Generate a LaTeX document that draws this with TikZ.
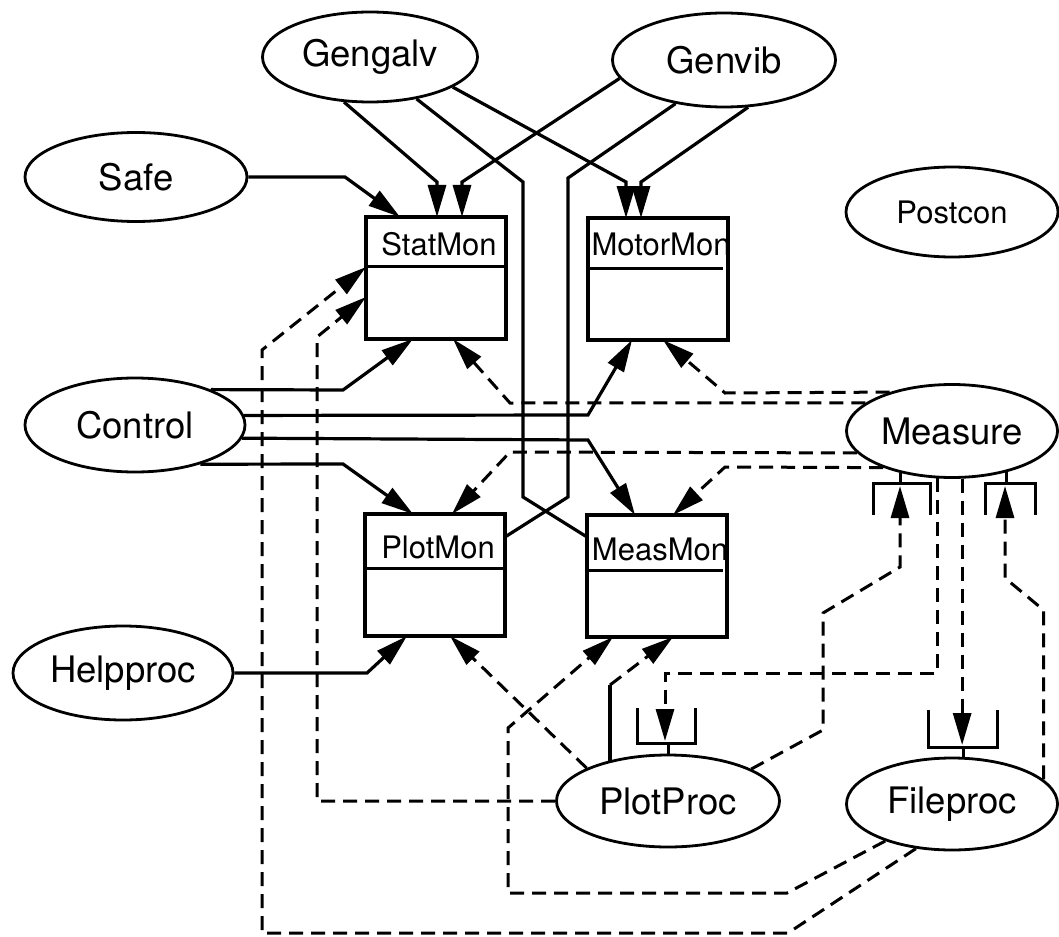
\documentclass[tikz,border=0pt]{standalone}
\usepackage{fontspec}
\setmainfont{TeX Gyre Heros}
\usetikzlibrary{shapes.geometric, arrows.meta, calc}
\tikzstyle{arrow} = [
    line width=3.2pt,
    -{Triangle[length=32pt, width=18pt]}
]

\begin{document}
\begin{tikzpicture}[
    x=1pt, y=-1pt,
    proc/.style={
        ellipse,
        draw,
        line width=2.8pt,
        inner sep=0pt,
        font=\fontsize{36.5}{40}\selectfont
    },
    mon/.style={
        rectangle,
        draw,
        line width=3.2pt,
        minimum width=140pt,
        minimum height=122pt,
        inner sep=0pt,
        outer sep=0pt
    },
    montitle/.style={anchor=base, inner sep=0pt, font=\fontsize{31}{36}\selectfont},
    link/.style={line width=3.2pt},
    msgarrow/.style={arrow, line width=3pt, dash pattern=on 14pt off 8pt},
    port/.style={line width=3pt}
]
\useasboundingbox (0,0) rectangle (1059,936);

% Processes
\node[proc, minimum width=215pt, minimum height=90pt] (gengalv) at (370,57) {Gengalv};
\node[proc, minimum width=223pt, minimum height=94pt] (genvib) at (724,60) {Genvib};
\node[proc, minimum width=222pt, minimum height=89pt] (safe) at (136,177) {Safe};
\node[proc, minimum width=212pt, minimum height=90pt, font=\fontsize{31}{36}\selectfont] (postcon) at (952,212) {Postcon};
\node[proc, minimum width=220pt, minimum height=94pt] (control) at (135,425) {Control};
\node[proc, minimum width=211pt, minimum height=93pt] (measure) at (952,431) {Measure};
\node[proc, minimum width=220pt, minimum height=94pt] (helpproc) at (123,673) {Helpproc};
\node[proc, minimum width=223pt, minimum height=92pt] (plotproc) at (668,801) {PlotProc};
\node[proc, minimum width=211pt, minimum height=92pt] (fileproc) at (952,804) {Fileproc};

% Monitors
\node[mon] (statmon) at (436,278) {};
\node[mon] (motormon) at (658,279) {};
\node[mon] (plotmon) at (435,575) {};
\node[mon] (measmon) at (657,576) {};

\node[montitle] (statmontitle) at ($(statmon.north)+(3,38)$) {StatMon};
\node[montitle] (motormontitle) at ($(motormon.north)+(3,37)$) {MotorMon};
\node[montitle] (plotmontitle) at ($(plotmon.north)+(3,44)$) {PlotMon};
\node[montitle] (measmontitle) at ($(measmon.north)+(3,45)$) {MeasMon};

\draw[port] (statmon.north west) ++(0,49) -- ++(140,0);
\draw[port] (motormon.north west) ++(0,50) -- ++(135,0);
\draw[port] (plotmon.north west) ++(0,54) -- ++(140,0);
\draw[port] (measmon.north west) ++(0,55) -- ++(136,0);

% Port cups
\coordinate (mportl) at (900,486);
\coordinate (mportr) at (1005,486);
\coordinate (pport) at (665,741);
\coordinate (fport) at (962,745);
\coordinate (pbend) at (610,685);

\draw[port] (measure.-141) -- (measure.-141 |- 0,483);
\draw[port] (873,515) |- (930,483) -- (930,515);
\draw[port] (measure.-37) -- (measure.-37 |- 0,483);
\draw[port] (985,515) |- (1035,483) -- (1035,515);
\draw[port] (plotproc.north) -- (668,743);
\draw[port] (637,708) |- (695,743) -- (695,708);
\draw[port] (fileproc.76) -- (fileproc.76 |- 0,747);
\draw[port] (928,710) |- (997,747) -- (997,710);

% Solid links
\draw[arrow] (gengalv.-120) -- (437,182) -- (437,0 |- statmon.north);
\draw[arrow] (genvib.190) -- (462,182) -- (462,0 |- statmon.north);
\draw[arrow] (gengalv.-20) -- (626,182) -- (626,0 |- motormon.north);
\draw[arrow] (genvib.-63) -- (641,182) -- (641,0 |- motormon.north);
\draw[link] (gengalv.-42) -- (523,182) -- (523,497) -- (measmon.west |- 0,537);
\draw[link] (genvib.-138) -- (568,178) -- (568,497) -- (plotmon.east |- 0,537);
\draw[arrow] (safe.east) -- (345,177) -- (400,0 |- statmon.north);
\draw[arrow] (control.25) -- (343,390) -- (413,0 |- statmon.south);
\draw[arrow] (control.5) -- (588,415) -- (632,0 |- motormon.south);
\draw[arrow] (control.-7) -- (588,440) -- (635,0 |- measmon.north);
\draw[arrow] (control.-31) -- (343,464) -- (413,0 |- plotmon.north);
\draw[arrow] (helpproc.east) -- (367,673) -- (407,0 |- plotmon.south);
\draw[link] (plotproc.146 -| pbend) -- (pbend);

% Dashed messages
\draw[msgarrow] (measure.162) -- (510,403) -- (453,0 |- statmon.south);
\draw[msgarrow] (measure.148) -- (725,393) -- (663,0 |- motormon.south);
\draw[msgarrow] (measure.193) -- (510,452) -- (452,0 |- plotmon.north);
\draw[msgarrow] (measure.208) -- (725,467) -- (673,0 |- measmon.north);
\draw[msgarrow] (measure.-107) |- (665,673) -- (pport);
\draw[msgarrow] (measure.-78) -- (measure.-78 |- fport);
\draw[msgarrow] (plotproc.21) -- (823,730) -- (823,613) -- (900,567) -- (mportl);
\draw[msgarrow] (fileproc.15) -- (fileproc.15 |- 0,610) -- (1005,578) -- (mportr);
\draw[msgarrow] (plotproc.158) -- (450,0 |- plotmon.south);
\draw[msgarrow] (pbend) -- (673,0 |- measmon.south);
\draw[msgarrow] (plotproc.west) -- (317,801) -- (317,337) -- (statmon.west |- 0,297);
\draw[msgarrow] (fileproc.209) -- (787,893) -- (508,893) -- (508,728) -- (613,0 |- measmon.south);
\draw[msgarrow] (fileproc.231) -- (788,933) -- (262,933) -- (262,350) -- (statmon.west |- 0,267);

\end{tikzpicture}
\end{document}
